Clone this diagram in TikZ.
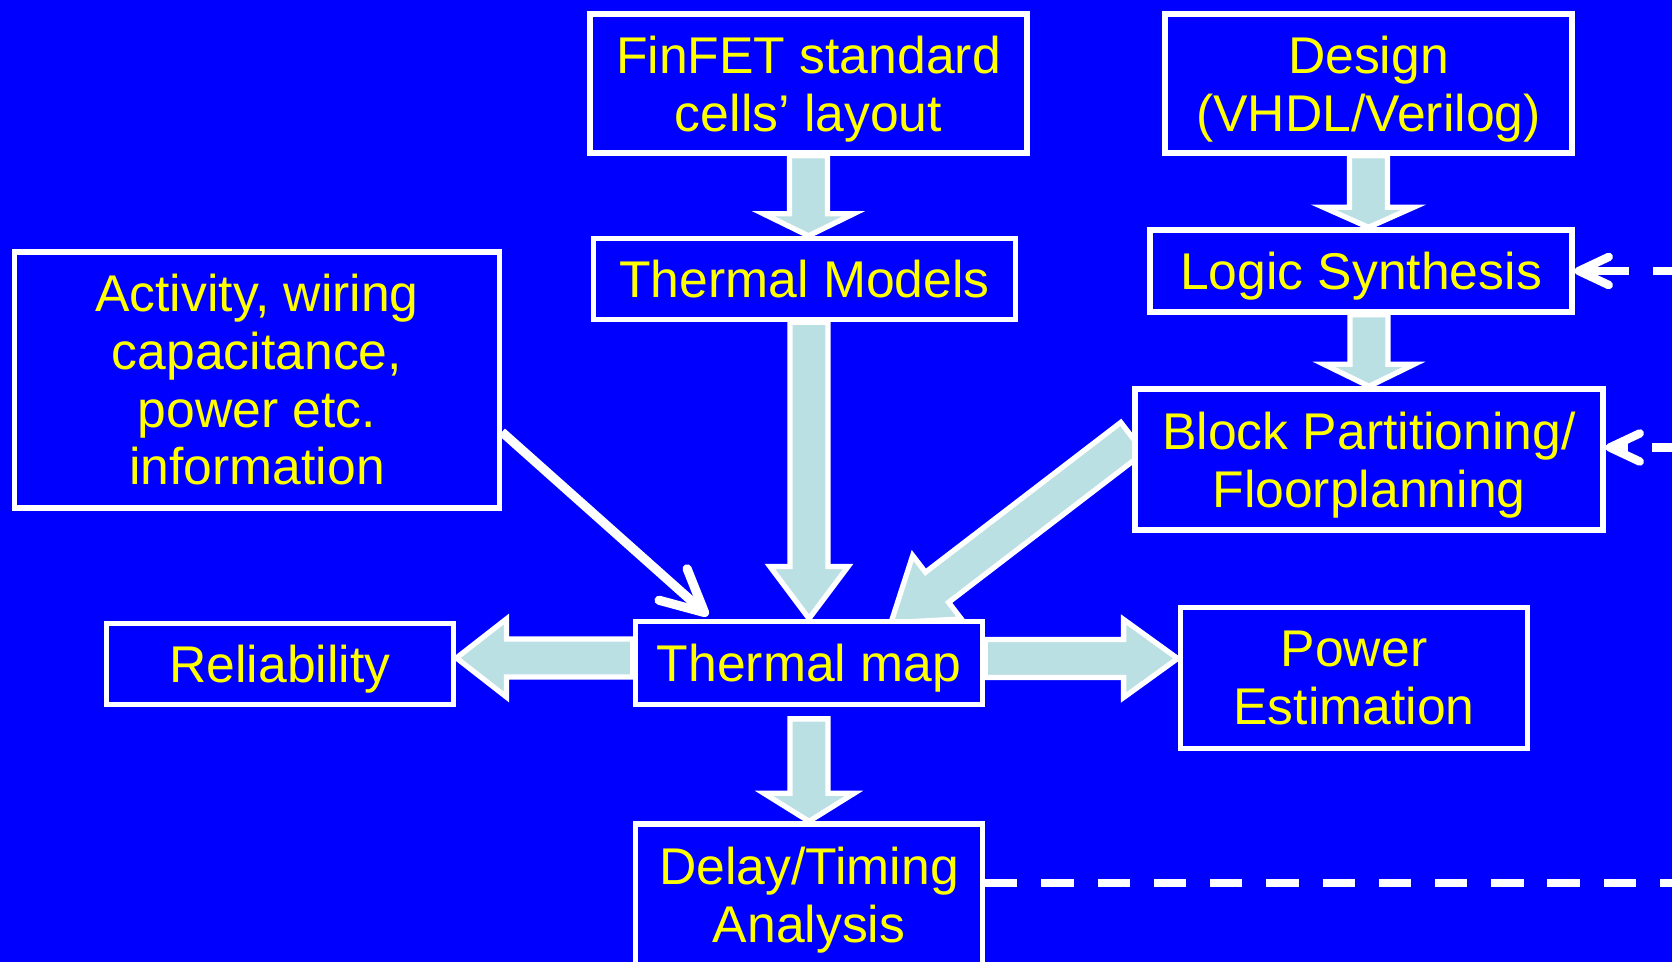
\documentclass[tikz,border=0pt]{standalone}
\usepackage{fontspec}
\setmainfont{Liberation Sans}
\usetikzlibrary{calc,positioning,backgrounds,arrows.meta}

\definecolor{bgblue}{RGB}{0,0,255}
\definecolor{labelyellow}{RGB}{255,255,0}
\definecolor{flowfill}{RGB}{187,224,227}

% last line without descender depth, so the caps sit centred
\newcommand{\lastline}[1]{\raisebox{0pt}[\height][0pt]{#1}}

% broad outlined arrow: tail, tip, head length, head half width
\newcommand{\shaftw}{0.19cm}
\newcommand{\fatarrow}[4]{%
  \coordinate (fa-neck) at ($(#2)!#3!(#1)$);
  \draw[fatflow] ($(#1)!\shaftw!90:(#2)$) -- ($(fa-neck)!\shaftw!-90:(#1)$)
    -- ($(fa-neck)!#4!-90:(#1)$) -- (#2) -- ($(fa-neck)!#4!90:(#1)$)
    -- ($(fa-neck)!\shaftw!90:(#1)$) -- ($(#1)!\shaftw!-90:(#2)$) -- cycle;
}

\begin{document}
\begin{tikzpicture}[
    box/.style={draw=white, line width=1.5pt, fill=bgblue, text=labelyellow, align=center,
      inner sep=0pt, font=\fontsize{14.7pt}{16.4pt}\selectfont},
    fatflow/.style={draw=white, fill=flowfill, line width=1.5pt, line join=miter},
    infoline/.style={white, line width=2.6pt, -{Straight Barb[length=12pt,width=12pt,round]}},
    feedback/.style={white, line width=2.4pt, dash pattern=on 9.2pt off 6.8pt}
  ]
    \useasboundingbox (0,0) rectangle (16.72,9.62);

    % top row
    \node[box, minimum width=4.37cm, minimum height=1.39cm] (finfet) at (8.085,8.785) {FinFET standard\\\lastline{cells’ layout}};
    \node[box, minimum width=4.07cm, minimum height=1.39cm] (design) at (13.685,8.785) {Design\\\lastline{(VHDL/Verilog)}};

    \node[box, minimum width=4.22cm, minimum height=0.81cm] (models) at (8.045,6.83) {Thermal Models};
    \node[box, minimum width=4.22cm, minimum height=0.82cm] (synth) at (13.61,6.91) {\lastline{Logic Synthesis}};

    \node[box, minimum width=4.845cm, minimum height=2.56cm] (activity) at (2.57,5.82) {Activity, wiring\\capacitance,\\power etc.\\information};
    \node[box, minimum width=4.68cm, minimum height=1.41cm] (floorplan) at (13.69,5.025) {Block Partitioning/\\\lastline{Floorplanning}};

    % middle row
    \node[box, minimum width=3.475cm, minimum height=0.815cm] (reliab) at (2.80,2.98) {\lastline{Reliability}};
    \node[box, minimum width=3.47cm, minimum height=0.835cm] (tmap) at (8.09,2.99) {\lastline{Thermal map}};
    \node[box, minimum width=3.475cm, minimum height=1.405cm] (power) at (13.54,2.84) {Power\\Estimation};

    \node[box, minimum width=3.47cm, minimum height=1.42cm] (timing) at (8.09,0.67) {Delay/Timing\\\lastline{Analysis}};

    % end points of the broad arrows
    \coordinate (models-in) at (finfet.south |- models.north);
    \coordinate (models-out) at (tmap.north |- models.south);
    \coordinate (synth-in) at (design.south |- synth.north);
    \coordinate (synth-out) at (floorplan.north |- synth.south);
    \coordinate (floor-out) at ([yshift=0.22cm]floorplan.west);
    \coordinate (floor-in) at ([xshift=0.82cm,yshift=-0.04cm]tmap.north);
    \coordinate (rel-out) at ([yshift=0.05cm]tmap.west);
    \coordinate (rel-in) at (reliab.east |- rel-out);
    \coordinate (pow-out) at ([yshift=0.045cm]tmap.east);
    \coordinate (pow-in) at (power.west |- pow-out);
    \coordinate (timing-out) at ([yshift=-0.115cm]tmap.south);

    \begin{scope}[on background layer]
        \fill[bgblue] (0,0) rectangle (16.72,9.62);
        \fatarrow{finfet.south}{models-in}{0.22cm}{0.45cm}
        \fatarrow{models-out}{tmap.north}{0.52cm}{0.39cm}
        \fatarrow{design.south}{synth-in}{0.2cm}{0.45cm}
        \fatarrow{synth-out}{floorplan.north}{0.22cm}{0.45cm}
        \fatarrow{floor-out}{floor-in}{0.58cm}{0.40cm}
        \fatarrow{rel-out}{rel-in}{0.50cm}{0.39cm}
        \fatarrow{pow-out}{pow-in}{0.54cm}{0.39cm}
        \fatarrow{timing-out}{timing.north}{0.28cm}{0.45cm}
    \end{scope}

    % thin input arrow
    \coordinate (act-out) at ([yshift=-0.52cm]activity.east);
    \coordinate (act-in) at ([xshift=-1.01cm,yshift=0.03cm]tmap.north);
    \draw[infoline] (act-out) -- (act-in);

    % timing feedback, dashed
    \coordinate (loop-low) at (17.5,0.79);
    \draw[feedback] ([yshift=0.12cm]timing.east) -- (loop-low);
    \draw[feedback, dash pattern=on 13pt off 7pt, {Straight Barb[length=8.5pt,width=8pt,round]}-] (synth.east) -- (synth.east -| loop-low);
    \draw[feedback, dash phase=5.3pt, {Straight Barb[length=8.5pt,width=8pt,round]}-] ([yshift=0.12cm]floorplan.east) -- ([yshift=0.12cm]floorplan.east -| loop-low);
\end{tikzpicture}
\end{document}
